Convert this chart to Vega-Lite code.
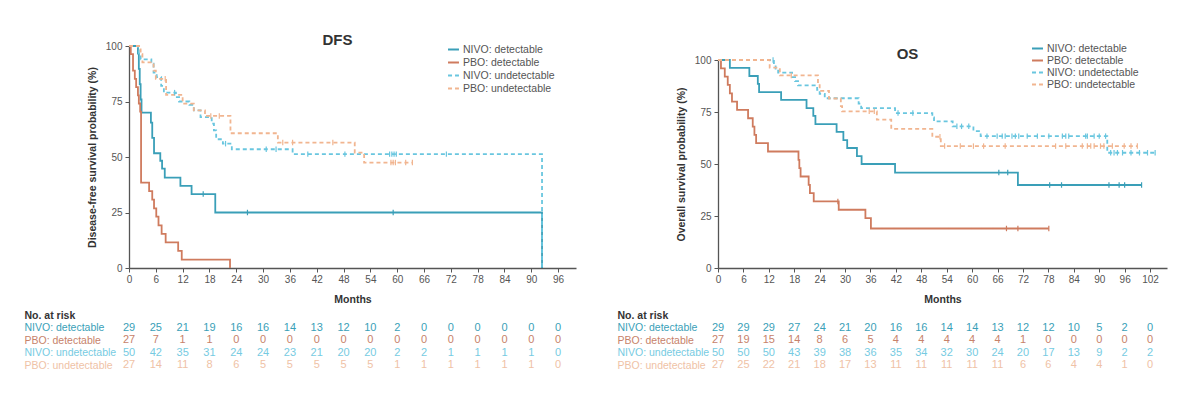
{
  "$schema": "https://vega.github.io/schema/vega-lite/v6.json",
  "background": "white",
  "padding": {"left": 24, "top": 33, "right": 5, "bottom": 5},
  "config": {
    "view": {"stroke": null},
    "font": "Liberation Sans",
    "axis": {
      "grid": false,
      "domainColor": "#555555",
      "domainWidth": 1.3,
      "tickColor": "#555555",
      "tickSize": 4,
      "labelColor": "#555555",
      "labelFontSize": 10,
      "labelOverlap": false,
      "titleColor": "#333333",
      "titleFontSize": 10.5,
      "titleFontWeight": "bold"
    }
  },
  "datasets": {
    "dfs_curves": [
      {"arm": "NIVO: detectable", "month": 0, "pct": 100},
      {"arm": "NIVO: detectable", "month": 2.0, "pct": 96.6},
      {"arm": "NIVO: detectable", "month": 2.2, "pct": 89.7},
      {"arm": "NIVO: detectable", "month": 2.4, "pct": 82.8},
      {"arm": "NIVO: detectable", "month": 2.6, "pct": 75.9},
      {"arm": "NIVO: detectable", "month": 2.8, "pct": 70.0},
      {"arm": "NIVO: detectable", "month": 4.9, "pct": 65.5},
      {"arm": "NIVO: detectable", "month": 5.2, "pct": 58.6},
      {"arm": "NIVO: detectable", "month": 5.6, "pct": 51.7},
      {"arm": "NIVO: detectable", "month": 7.0, "pct": 48.3},
      {"arm": "NIVO: detectable", "month": 7.4, "pct": 44.8},
      {"arm": "NIVO: detectable", "month": 8.0, "pct": 40.7},
      {"arm": "NIVO: detectable", "month": 11.5, "pct": 37.0},
      {"arm": "NIVO: detectable", "month": 14.0, "pct": 33.3},
      {"arm": "NIVO: detectable", "month": 19.3, "pct": 25.0},
      {"arm": "NIVO: detectable", "month": 92.4, "pct": 0},
      {"arm": "PBO: detectable", "month": 0, "pct": 100},
      {"arm": "PBO: detectable", "month": 0.4, "pct": 96.3},
      {"arm": "PBO: detectable", "month": 0.9, "pct": 88.9},
      {"arm": "PBO: detectable", "month": 1.3, "pct": 85.2},
      {"arm": "PBO: detectable", "month": 1.6, "pct": 81.5},
      {"arm": "PBO: detectable", "month": 2.0, "pct": 77.8},
      {"arm": "PBO: detectable", "month": 2.2, "pct": 74.1},
      {"arm": "PBO: detectable", "month": 2.5, "pct": 70.4},
      {"arm": "PBO: detectable", "month": 2.7, "pct": 38.5},
      {"arm": "PBO: detectable", "month": 4.5, "pct": 34.6},
      {"arm": "PBO: detectable", "month": 5.2, "pct": 30.8},
      {"arm": "PBO: detectable", "month": 5.6, "pct": 26.9},
      {"arm": "PBO: detectable", "month": 6.1, "pct": 23.1},
      {"arm": "PBO: detectable", "month": 6.6, "pct": 19.2},
      {"arm": "PBO: detectable", "month": 7.3, "pct": 15.4},
      {"arm": "PBO: detectable", "month": 8.2, "pct": 11.5},
      {"arm": "PBO: detectable", "month": 11.0, "pct": 7.7},
      {"arm": "PBO: detectable", "month": 11.8, "pct": 3.8},
      {"arm": "PBO: detectable", "month": 22.6, "pct": 0},
      {"arm": "NIVO: undetectable", "month": 0, "pct": 100},
      {"arm": "NIVO: undetectable", "month": 2.0, "pct": 98},
      {"arm": "NIVO: undetectable", "month": 2.2, "pct": 96},
      {"arm": "NIVO: undetectable", "month": 2.6, "pct": 94},
      {"arm": "NIVO: undetectable", "month": 5.0, "pct": 92},
      {"arm": "NIVO: undetectable", "month": 5.5, "pct": 88},
      {"arm": "NIVO: undetectable", "month": 6.2, "pct": 86},
      {"arm": "NIVO: undetectable", "month": 7.2, "pct": 82},
      {"arm": "NIVO: undetectable", "month": 7.8, "pct": 79},
      {"arm": "NIVO: undetectable", "month": 10.5, "pct": 77},
      {"arm": "NIVO: undetectable", "month": 11.2, "pct": 75},
      {"arm": "NIVO: undetectable", "month": 13.5, "pct": 73.5},
      {"arm": "NIVO: undetectable", "month": 14.5, "pct": 71},
      {"arm": "NIVO: undetectable", "month": 16.0, "pct": 68},
      {"arm": "NIVO: undetectable", "month": 18.5, "pct": 65},
      {"arm": "NIVO: undetectable", "month": 19.0, "pct": 62},
      {"arm": "NIVO: undetectable", "month": 19.5, "pct": 58},
      {"arm": "NIVO: undetectable", "month": 21.0, "pct": 56},
      {"arm": "NIVO: undetectable", "month": 23.0, "pct": 53.5},
      {"arm": "NIVO: undetectable", "month": 36.6, "pct": 51.3},
      {"arm": "NIVO: undetectable", "month": 92.4, "pct": 0},
      {"arm": "PBO: undetectable", "month": 0, "pct": 100},
      {"arm": "PBO: undetectable", "month": 2.6, "pct": 96.3},
      {"arm": "PBO: undetectable", "month": 3.0, "pct": 92.6},
      {"arm": "PBO: undetectable", "month": 5.5, "pct": 88.9},
      {"arm": "PBO: undetectable", "month": 6.0, "pct": 85.2},
      {"arm": "PBO: undetectable", "month": 8.3, "pct": 78},
      {"arm": "PBO: undetectable", "month": 12.0, "pct": 74},
      {"arm": "PBO: undetectable", "month": 14.5, "pct": 71},
      {"arm": "PBO: undetectable", "month": 17.0, "pct": 68.5},
      {"arm": "PBO: undetectable", "month": 22.7, "pct": 60.7},
      {"arm": "PBO: undetectable", "month": 33.3, "pct": 56.5},
      {"arm": "PBO: undetectable", "month": 50.5, "pct": 52},
      {"arm": "PBO: undetectable", "month": 52.6, "pct": 47.5},
      {"arm": "PBO: undetectable", "month": 63.4, "pct": 47.5}
    ],
    "dfs_censor": [
      {"arm": "NIVO: detectable", "month": 16.6, "pct": 33.3},
      {"arm": "NIVO: detectable", "month": 26.5, "pct": 25},
      {"arm": "NIVO: detectable", "month": 59.1, "pct": 25},
      {"arm": "NIVO: undetectable", "month": 10.2, "pct": 79},
      {"arm": "NIVO: undetectable", "month": 21.6, "pct": 56},
      {"arm": "NIVO: undetectable", "month": 30.7, "pct": 53.5},
      {"arm": "NIVO: undetectable", "month": 32.9, "pct": 53.5},
      {"arm": "NIVO: undetectable", "month": 40.0, "pct": 51.3},
      {"arm": "NIVO: undetectable", "month": 48.3, "pct": 51.3},
      {"arm": "NIVO: undetectable", "month": 58.3, "pct": 51.3},
      {"arm": "NIVO: undetectable", "month": 58.8, "pct": 51.3},
      {"arm": "NIVO: undetectable", "month": 59.3, "pct": 51.3},
      {"arm": "NIVO: undetectable", "month": 59.8, "pct": 51.3},
      {"arm": "NIVO: undetectable", "month": 71.0, "pct": 51.3},
      {"arm": "PBO: undetectable", "month": 8.1, "pct": 85.2},
      {"arm": "PBO: undetectable", "month": 18.3, "pct": 68.5},
      {"arm": "PBO: undetectable", "month": 20.2, "pct": 68.5},
      {"arm": "PBO: undetectable", "month": 34.4, "pct": 56.5},
      {"arm": "PBO: undetectable", "month": 36.6, "pct": 56.5},
      {"arm": "PBO: undetectable", "month": 45.6, "pct": 56.5},
      {"arm": "PBO: undetectable", "month": 58.6, "pct": 47.5},
      {"arm": "PBO: undetectable", "month": 59.1, "pct": 47.5},
      {"arm": "PBO: undetectable", "month": 59.6, "pct": 47.5},
      {"arm": "PBO: undetectable", "month": 61.9, "pct": 47.5},
      {"arm": "PBO: undetectable", "month": 63.4, "pct": 47.5}
    ],
    "os_curves": [
      {"arm": "NIVO: detectable", "month": 0, "pct": 100},
      {"arm": "NIVO: detectable", "month": 2.8, "pct": 96.2},
      {"arm": "NIVO: detectable", "month": 7.4, "pct": 92.3},
      {"arm": "NIVO: detectable", "month": 9.4, "pct": 88.5},
      {"arm": "NIVO: detectable", "month": 9.7, "pct": 84.6},
      {"arm": "NIVO: detectable", "month": 14.9, "pct": 80.8},
      {"arm": "NIVO: detectable", "month": 20.9, "pct": 76.9},
      {"arm": "NIVO: detectable", "month": 22.5, "pct": 73.1},
      {"arm": "NIVO: detectable", "month": 23.0, "pct": 69.2},
      {"arm": "NIVO: detectable", "month": 28.0, "pct": 65.4},
      {"arm": "NIVO: detectable", "month": 29.6, "pct": 61.5},
      {"arm": "NIVO: detectable", "month": 30.5, "pct": 57.7},
      {"arm": "NIVO: detectable", "month": 32.8, "pct": 53.8},
      {"arm": "NIVO: detectable", "month": 33.9, "pct": 50.0},
      {"arm": "NIVO: detectable", "month": 41.8, "pct": 45.9},
      {"arm": "NIVO: detectable", "month": 70.8, "pct": 39.9},
      {"arm": "NIVO: detectable", "month": 100, "pct": 39.9},
      {"arm": "PBO: detectable", "month": 0, "pct": 100},
      {"arm": "PBO: detectable", "month": 0.7, "pct": 96},
      {"arm": "PBO: detectable", "month": 1.6, "pct": 92},
      {"arm": "PBO: detectable", "month": 2.3, "pct": 88},
      {"arm": "PBO: detectable", "month": 2.8, "pct": 84},
      {"arm": "PBO: detectable", "month": 3.3, "pct": 80},
      {"arm": "PBO: detectable", "month": 4.5, "pct": 76},
      {"arm": "PBO: detectable", "month": 7.1, "pct": 72},
      {"arm": "PBO: detectable", "month": 8.2, "pct": 68},
      {"arm": "PBO: detectable", "month": 8.6, "pct": 64},
      {"arm": "PBO: detectable", "month": 9.0, "pct": 60},
      {"arm": "PBO: detectable", "month": 11.8, "pct": 56},
      {"arm": "PBO: detectable", "month": 19.0, "pct": 52},
      {"arm": "PBO: detectable", "month": 19.2, "pct": 48},
      {"arm": "PBO: detectable", "month": 19.5, "pct": 44},
      {"arm": "PBO: detectable", "month": 21.4, "pct": 40},
      {"arm": "PBO: detectable", "month": 21.7, "pct": 36},
      {"arm": "PBO: detectable", "month": 22.6, "pct": 32},
      {"arm": "PBO: detectable", "month": 28.5, "pct": 28},
      {"arm": "PBO: detectable", "month": 34.8, "pct": 24},
      {"arm": "PBO: detectable", "month": 36.1, "pct": 19},
      {"arm": "PBO: detectable", "month": 78.1, "pct": 19},
      {"arm": "NIVO: undetectable", "month": 0, "pct": 100},
      {"arm": "NIVO: undetectable", "month": 13.2, "pct": 98},
      {"arm": "NIVO: undetectable", "month": 13.6, "pct": 95.9},
      {"arm": "NIVO: undetectable", "month": 14.2, "pct": 93.9},
      {"arm": "NIVO: undetectable", "month": 17.5, "pct": 91.8},
      {"arm": "NIVO: undetectable", "month": 18.2, "pct": 89.8},
      {"arm": "NIVO: undetectable", "month": 18.9, "pct": 87.8},
      {"arm": "NIVO: undetectable", "month": 23.4, "pct": 85.7},
      {"arm": "NIVO: undetectable", "month": 24.0, "pct": 83.7},
      {"arm": "NIVO: undetectable", "month": 25.2, "pct": 81.6},
      {"arm": "NIVO: undetectable", "month": 33.2, "pct": 79.0},
      {"arm": "NIVO: undetectable", "month": 33.8, "pct": 76.9},
      {"arm": "NIVO: undetectable", "month": 41.8, "pct": 74.5},
      {"arm": "NIVO: undetectable", "month": 50.6, "pct": 72.4},
      {"arm": "NIVO: undetectable", "month": 51.0, "pct": 70.5},
      {"arm": "NIVO: undetectable", "month": 55.4, "pct": 68.1},
      {"arm": "NIVO: undetectable", "month": 60.3, "pct": 65.8},
      {"arm": "NIVO: undetectable", "month": 62.0, "pct": 63.4},
      {"arm": "NIVO: undetectable", "month": 91.9, "pct": 55.4},
      {"arm": "NIVO: undetectable", "month": 103.2, "pct": 55.4},
      {"arm": "PBO: undetectable", "month": 0, "pct": 100},
      {"arm": "PBO: undetectable", "month": 12.2, "pct": 96.3},
      {"arm": "PBO: undetectable", "month": 14.6, "pct": 92.6},
      {"arm": "PBO: undetectable", "month": 23.6, "pct": 88.9},
      {"arm": "PBO: undetectable", "month": 24.0, "pct": 85.2},
      {"arm": "PBO: undetectable", "month": 26.2, "pct": 81.5},
      {"arm": "PBO: undetectable", "month": 29.0, "pct": 77.8},
      {"arm": "PBO: undetectable", "month": 29.3, "pct": 75.3},
      {"arm": "PBO: undetectable", "month": 37.5, "pct": 71.3},
      {"arm": "PBO: undetectable", "month": 40.9, "pct": 66.9},
      {"arm": "PBO: undetectable", "month": 50.6, "pct": 63.1},
      {"arm": "PBO: undetectable", "month": 52.6, "pct": 58.6},
      {"arm": "PBO: undetectable", "month": 99.0, "pct": 58.6}
    ],
    "os_censor": [
      {"arm": "NIVO: detectable", "month": 66.3, "pct": 45.9},
      {"arm": "NIVO: detectable", "month": 68.4, "pct": 45.9},
      {"arm": "NIVO: detectable", "month": 78.3, "pct": 39.9},
      {"arm": "NIVO: detectable", "month": 81.1, "pct": 39.9},
      {"arm": "NIVO: detectable", "month": 92.3, "pct": 39.9},
      {"arm": "NIVO: detectable", "month": 94.7, "pct": 39.9},
      {"arm": "NIVO: detectable", "month": 96.0, "pct": 39.9},
      {"arm": "NIVO: detectable", "month": 100, "pct": 39.9},
      {"arm": "PBO: detectable", "month": 28.3, "pct": 32},
      {"arm": "PBO: detectable", "month": 68.1, "pct": 19},
      {"arm": "PBO: detectable", "month": 70.8, "pct": 19},
      {"arm": "PBO: detectable", "month": 78.1, "pct": 19},
      {"arm": "NIVO: undetectable", "month": 13.0, "pct": 100},
      {"arm": "NIVO: undetectable", "month": 42.5, "pct": 74.5},
      {"arm": "NIVO: undetectable", "month": 46.0, "pct": 74.5},
      {"arm": "NIVO: undetectable", "month": 56.4, "pct": 68.1},
      {"arm": "NIVO: undetectable", "month": 57.5, "pct": 68.1},
      {"arm": "NIVO: undetectable", "month": 59.2, "pct": 68.1},
      {"arm": "NIVO: undetectable", "month": 63.5, "pct": 63.4},
      {"arm": "NIVO: undetectable", "month": 65.9, "pct": 63.4},
      {"arm": "NIVO: undetectable", "month": 67.1, "pct": 63.4},
      {"arm": "NIVO: undetectable", "month": 67.8, "pct": 63.4},
      {"arm": "NIVO: undetectable", "month": 69.4, "pct": 63.4},
      {"arm": "NIVO: undetectable", "month": 70.2, "pct": 63.4},
      {"arm": "NIVO: undetectable", "month": 71.0, "pct": 63.4},
      {"arm": "NIVO: undetectable", "month": 73.0, "pct": 63.4},
      {"arm": "NIVO: undetectable", "month": 75.4, "pct": 63.4},
      {"arm": "NIVO: undetectable", "month": 78.1, "pct": 63.4},
      {"arm": "NIVO: undetectable", "month": 81.3, "pct": 63.4},
      {"arm": "NIVO: undetectable", "month": 82.1, "pct": 63.4},
      {"arm": "NIVO: undetectable", "month": 82.8, "pct": 63.4},
      {"arm": "NIVO: undetectable", "month": 86.8, "pct": 63.4},
      {"arm": "NIVO: undetectable", "month": 87.2, "pct": 63.4},
      {"arm": "NIVO: undetectable", "month": 88.8, "pct": 63.4},
      {"arm": "NIVO: undetectable", "month": 90.0, "pct": 63.4},
      {"arm": "NIVO: undetectable", "month": 91.5, "pct": 63.4},
      {"arm": "NIVO: undetectable", "month": 92.7, "pct": 55.4},
      {"arm": "NIVO: undetectable", "month": 93.5, "pct": 55.4},
      {"arm": "NIVO: undetectable", "month": 94.3, "pct": 55.4},
      {"arm": "NIVO: undetectable", "month": 95.5, "pct": 55.4},
      {"arm": "NIVO: undetectable", "month": 97.5, "pct": 55.4},
      {"arm": "NIVO: undetectable", "month": 99.5, "pct": 55.4},
      {"arm": "NIVO: undetectable", "month": 101.4, "pct": 55.4},
      {"arm": "NIVO: undetectable", "month": 103.2, "pct": 55.4},
      {"arm": "PBO: undetectable", "month": 17.3, "pct": 92.6},
      {"arm": "PBO: undetectable", "month": 35.7, "pct": 75.3},
      {"arm": "PBO: undetectable", "month": 36.9, "pct": 75.3},
      {"arm": "PBO: undetectable", "month": 52.4, "pct": 63.1},
      {"arm": "PBO: undetectable", "month": 53.5, "pct": 58.6},
      {"arm": "PBO: undetectable", "month": 57.2, "pct": 58.6},
      {"arm": "PBO: undetectable", "month": 60.3, "pct": 58.6},
      {"arm": "PBO: undetectable", "month": 62.7, "pct": 58.6},
      {"arm": "PBO: undetectable", "month": 67.8, "pct": 58.6},
      {"arm": "PBO: undetectable", "month": 79.7, "pct": 58.6},
      {"arm": "PBO: undetectable", "month": 82.1, "pct": 58.6},
      {"arm": "PBO: undetectable", "month": 86.0, "pct": 58.6},
      {"arm": "PBO: undetectable", "month": 87.2, "pct": 58.6},
      {"arm": "PBO: undetectable", "month": 88.0, "pct": 58.6},
      {"arm": "PBO: undetectable", "month": 88.8, "pct": 58.6},
      {"arm": "PBO: undetectable", "month": 90.3, "pct": 58.6},
      {"arm": "PBO: undetectable", "month": 91.1, "pct": 58.6},
      {"arm": "PBO: undetectable", "month": 93.1, "pct": 58.6},
      {"arm": "PBO: undetectable", "month": 95.9, "pct": 58.6},
      {"arm": "PBO: undetectable", "month": 97.5, "pct": 58.6},
      {"arm": "PBO: undetectable", "month": 99.0, "pct": 58.6}
    ],
    "dfs_risk": [
      {"arm": "NIVO: detectable", "month": 0, "n": 29}, {"arm": "NIVO: detectable", "month": 6, "n": 25}, {"arm": "NIVO: detectable", "month": 12, "n": 21}, {"arm": "NIVO: detectable", "month": 18, "n": 19}, {"arm": "NIVO: detectable", "month": 24, "n": 16}, {"arm": "NIVO: detectable", "month": 30, "n": 16}, {"arm": "NIVO: detectable", "month": 36, "n": 14}, {"arm": "NIVO: detectable", "month": 42, "n": 13}, {"arm": "NIVO: detectable", "month": 48, "n": 12}, {"arm": "NIVO: detectable", "month": 54, "n": 10}, {"arm": "NIVO: detectable", "month": 60, "n": 2}, {"arm": "NIVO: detectable", "month": 66, "n": 0}, {"arm": "NIVO: detectable", "month": 72, "n": 0}, {"arm": "NIVO: detectable", "month": 78, "n": 0}, {"arm": "NIVO: detectable", "month": 84, "n": 0}, {"arm": "NIVO: detectable", "month": 90, "n": 0}, {"arm": "NIVO: detectable", "month": 96, "n": 0},
      {"arm": "PBO: detectable", "month": 0, "n": 27}, {"arm": "PBO: detectable", "month": 6, "n": 7}, {"arm": "PBO: detectable", "month": 12, "n": 1}, {"arm": "PBO: detectable", "month": 18, "n": 1}, {"arm": "PBO: detectable", "month": 24, "n": 0}, {"arm": "PBO: detectable", "month": 30, "n": 0}, {"arm": "PBO: detectable", "month": 36, "n": 0}, {"arm": "PBO: detectable", "month": 42, "n": 0}, {"arm": "PBO: detectable", "month": 48, "n": 0}, {"arm": "PBO: detectable", "month": 54, "n": 0}, {"arm": "PBO: detectable", "month": 60, "n": 0}, {"arm": "PBO: detectable", "month": 66, "n": 0}, {"arm": "PBO: detectable", "month": 72, "n": 0}, {"arm": "PBO: detectable", "month": 78, "n": 0}, {"arm": "PBO: detectable", "month": 84, "n": 0}, {"arm": "PBO: detectable", "month": 90, "n": 0}, {"arm": "PBO: detectable", "month": 96, "n": 0},
      {"arm": "NIVO: undetectable", "month": 0, "n": 50}, {"arm": "NIVO: undetectable", "month": 6, "n": 42}, {"arm": "NIVO: undetectable", "month": 12, "n": 35}, {"arm": "NIVO: undetectable", "month": 18, "n": 31}, {"arm": "NIVO: undetectable", "month": 24, "n": 24}, {"arm": "NIVO: undetectable", "month": 30, "n": 24}, {"arm": "NIVO: undetectable", "month": 36, "n": 23}, {"arm": "NIVO: undetectable", "month": 42, "n": 21}, {"arm": "NIVO: undetectable", "month": 48, "n": 20}, {"arm": "NIVO: undetectable", "month": 54, "n": 20}, {"arm": "NIVO: undetectable", "month": 60, "n": 2}, {"arm": "NIVO: undetectable", "month": 66, "n": 2}, {"arm": "NIVO: undetectable", "month": 72, "n": 1}, {"arm": "NIVO: undetectable", "month": 78, "n": 1}, {"arm": "NIVO: undetectable", "month": 84, "n": 1}, {"arm": "NIVO: undetectable", "month": 90, "n": 1}, {"arm": "NIVO: undetectable", "month": 96, "n": 0},
      {"arm": "PBO: undetectable", "month": 0, "n": 27}, {"arm": "PBO: undetectable", "month": 6, "n": 14}, {"arm": "PBO: undetectable", "month": 12, "n": 11}, {"arm": "PBO: undetectable", "month": 18, "n": 8}, {"arm": "PBO: undetectable", "month": 24, "n": 6}, {"arm": "PBO: undetectable", "month": 30, "n": 5}, {"arm": "PBO: undetectable", "month": 36, "n": 5}, {"arm": "PBO: undetectable", "month": 42, "n": 5}, {"arm": "PBO: undetectable", "month": 48, "n": 5}, {"arm": "PBO: undetectable", "month": 54, "n": 5}, {"arm": "PBO: undetectable", "month": 60, "n": 1}, {"arm": "PBO: undetectable", "month": 66, "n": 1}, {"arm": "PBO: undetectable", "month": 72, "n": 1}, {"arm": "PBO: undetectable", "month": 78, "n": 1}, {"arm": "PBO: undetectable", "month": 84, "n": 1}, {"arm": "PBO: undetectable", "month": 90, "n": 1}, {"arm": "PBO: undetectable", "month": 96, "n": 0}
    ],
    "os_risk": [
      {"arm": "NIVO: detectable", "month": 0, "n": 29}, {"arm": "NIVO: detectable", "month": 6, "n": 29}, {"arm": "NIVO: detectable", "month": 12, "n": 29}, {"arm": "NIVO: detectable", "month": 18, "n": 27}, {"arm": "NIVO: detectable", "month": 24, "n": 24}, {"arm": "NIVO: detectable", "month": 30, "n": 21}, {"arm": "NIVO: detectable", "month": 36, "n": 20}, {"arm": "NIVO: detectable", "month": 42, "n": 16}, {"arm": "NIVO: detectable", "month": 48, "n": 16}, {"arm": "NIVO: detectable", "month": 54, "n": 14}, {"arm": "NIVO: detectable", "month": 60, "n": 14}, {"arm": "NIVO: detectable", "month": 66, "n": 13}, {"arm": "NIVO: detectable", "month": 72, "n": 12}, {"arm": "NIVO: detectable", "month": 78, "n": 12}, {"arm": "NIVO: detectable", "month": 84, "n": 10}, {"arm": "NIVO: detectable", "month": 90, "n": 5}, {"arm": "NIVO: detectable", "month": 96, "n": 2}, {"arm": "NIVO: detectable", "month": 102, "n": 0},
      {"arm": "PBO: detectable", "month": 0, "n": 27}, {"arm": "PBO: detectable", "month": 6, "n": 19}, {"arm": "PBO: detectable", "month": 12, "n": 15}, {"arm": "PBO: detectable", "month": 18, "n": 14}, {"arm": "PBO: detectable", "month": 24, "n": 8}, {"arm": "PBO: detectable", "month": 30, "n": 6}, {"arm": "PBO: detectable", "month": 36, "n": 5}, {"arm": "PBO: detectable", "month": 42, "n": 4}, {"arm": "PBO: detectable", "month": 48, "n": 4}, {"arm": "PBO: detectable", "month": 54, "n": 4}, {"arm": "PBO: detectable", "month": 60, "n": 4}, {"arm": "PBO: detectable", "month": 66, "n": 4}, {"arm": "PBO: detectable", "month": 72, "n": 1}, {"arm": "PBO: detectable", "month": 78, "n": 0}, {"arm": "PBO: detectable", "month": 84, "n": 0}, {"arm": "PBO: detectable", "month": 90, "n": 0}, {"arm": "PBO: detectable", "month": 96, "n": 0}, {"arm": "PBO: detectable", "month": 102, "n": 0},
      {"arm": "NIVO: undetectable", "month": 0, "n": 50}, {"arm": "NIVO: undetectable", "month": 6, "n": 50}, {"arm": "NIVO: undetectable", "month": 12, "n": 50}, {"arm": "NIVO: undetectable", "month": 18, "n": 43}, {"arm": "NIVO: undetectable", "month": 24, "n": 39}, {"arm": "NIVO: undetectable", "month": 30, "n": 38}, {"arm": "NIVO: undetectable", "month": 36, "n": 36}, {"arm": "NIVO: undetectable", "month": 42, "n": 35}, {"arm": "NIVO: undetectable", "month": 48, "n": 34}, {"arm": "NIVO: undetectable", "month": 54, "n": 32}, {"arm": "NIVO: undetectable", "month": 60, "n": 30}, {"arm": "NIVO: undetectable", "month": 66, "n": 24}, {"arm": "NIVO: undetectable", "month": 72, "n": 20}, {"arm": "NIVO: undetectable", "month": 78, "n": 17}, {"arm": "NIVO: undetectable", "month": 84, "n": 13}, {"arm": "NIVO: undetectable", "month": 90, "n": 9}, {"arm": "NIVO: undetectable", "month": 96, "n": 2}, {"arm": "NIVO: undetectable", "month": 102, "n": 2},
      {"arm": "PBO: undetectable", "month": 0, "n": 27}, {"arm": "PBO: undetectable", "month": 6, "n": 25}, {"arm": "PBO: undetectable", "month": 12, "n": 22}, {"arm": "PBO: undetectable", "month": 18, "n": 21}, {"arm": "PBO: undetectable", "month": 24, "n": 18}, {"arm": "PBO: undetectable", "month": 30, "n": 17}, {"arm": "PBO: undetectable", "month": 36, "n": 13}, {"arm": "PBO: undetectable", "month": 42, "n": 11}, {"arm": "PBO: undetectable", "month": 48, "n": 11}, {"arm": "PBO: undetectable", "month": 54, "n": 11}, {"arm": "PBO: undetectable", "month": 60, "n": 11}, {"arm": "PBO: undetectable", "month": 66, "n": 11}, {"arm": "PBO: undetectable", "month": 72, "n": 6}, {"arm": "PBO: undetectable", "month": 78, "n": 6}, {"arm": "PBO: undetectable", "month": 84, "n": 4}, {"arm": "PBO: undetectable", "month": 90, "n": 4}, {"arm": "PBO: undetectable", "month": 96, "n": 1}, {"arm": "PBO: undetectable", "month": 102, "n": 0}
    ]
  },
  "columns": 2,
  "bounds": "flush",
  "spacing": {"row": 41, "column": 142},
  "resolve": {
    "scale": {"x": "independent", "y": "independent", "color": "independent", "strokeDash": "independent"},
    "legend": {"color": "independent", "strokeDash": "independent"}
  },
  "concat": [
    {
      "width": 447,
      "height": 222,
      "title": {"text": "DFS", "fontSize": 15, "fontWeight": "bold", "color": "#333333", "dx": -15, "offset": -7},
      "layer": [
        {
          "data": {"name": "dfs_curves"},
          "mark": {"type": "line", "interpolate": "step-after", "strokeWidth": 1.8},
          "encoding": {
            "x": {"field": "month", "type": "quantitative", "scale": {"domain": [0, 100], "nice": false},
                  "axis": {"values": [0, 6, 12, 18, 24, 30, 36, 42, 48, 54, 60, 66, 72, 78, 84, 90, 96], "tickCount": 30, "labelOverlap": false, "title": "Months", "titlePadding": 10, "labelPadding": 2, "labelFlush": false}},
            "y": {"field": "pct", "type": "quantitative", "scale": {"domain": [0, 100], "nice": false},
                  "axis": {"values": [0, 25, 50, 75, 100], "title": "Disease-free survival probability (%)", "titlePadding": 8, "labelPadding": 3}},
            "color": {"field": "arm", "type": "nominal",
                      "scale": {"domain": ["NIVO: detectable", "PBO: detectable", "NIVO: undetectable", "PBO: undetectable"], "range": ["#3a9fb8", "#cf7b5e", "#69c6df", "#f1b590"]},
                      "legend": {"title": null, "orient": "none", "legendX": 318, "legendY": -3, "symbolType": "stroke", "symbolSize": 120, "symbolStrokeWidth": 2, "labelFontSize": 10.5, "labelColor": "#555555", "rowPadding": 1, "labelOffset": 3}},
            "strokeDash": {"field": "arm", "type": "nominal",
                           "scale": {"domain": ["NIVO: detectable", "PBO: detectable", "NIVO: undetectable", "PBO: undetectable"], "range": [[1, 0], [1, 0], [4, 3], [4, 3]]},
                           "legend": {"title": null, "orient": "none", "legendX": 318, "legendY": -3, "symbolType": "stroke", "symbolSize": 120, "symbolStrokeWidth": 2, "labelFontSize": 10.5, "labelColor": "#555555", "rowPadding": 1, "labelOffset": 3}}
          }
        },
        {
          "data": {"name": "dfs_censor"},
          "mark": {"type": "point", "shape": "M0,-1L0,1", "filled": false, "size": 30, "strokeWidth": 1.2, "opacity": 1},
          "encoding": {
            "x": {"field": "month", "type": "quantitative"},
            "y": {"field": "pct", "type": "quantitative"},
            "color": {"field": "arm", "type": "nominal"}
          }
        }
      ]
    },
    {
      "width": 449,
      "height": 222,
      "title": {"text": "OS", "fontSize": 15, "fontWeight": "bold", "color": "#333333", "dx": -35, "offset": -20},
      "layer": [
        {
          "data": {"name": "os_curves"},
          "mark": {"type": "line", "interpolate": "step-after", "strokeWidth": 1.8},
          "encoding": {
            "x": {"field": "month", "type": "quantitative", "scale": {"domain": [0, 106], "nice": false},
                  "axis": {"values": [0, 6, 12, 18, 24, 30, 36, 42, 48, 54, 60, 66, 72, 78, 84, 90, 96, 102], "tickCount": 30, "labelOverlap": false, "title": "Months", "titlePadding": 10, "labelPadding": 2, "labelFlush": false}},
            "y": {"field": "pct", "type": "quantitative", "scale": {"domain": [0, 100], "nice": false, "range": [222, 14]},
                  "axis": {"values": [0, 25, 50, 75, 100], "title": "Overall survival probability (%)", "titlePadding": 8, "labelPadding": 3}},
            "color": {"field": "arm", "type": "nominal",
                      "scale": {"domain": ["NIVO: detectable", "PBO: detectable", "NIVO: undetectable", "PBO: undetectable"], "range": ["#3a9fb8", "#cf7b5e", "#69c6df", "#f1b590"]},
                      "legend": {"title": null, "orient": "none", "legendX": 313, "legendY": -4, "symbolType": "stroke", "symbolSize": 120, "symbolStrokeWidth": 2, "labelFontSize": 10.5, "labelColor": "#555555", "rowPadding": 0, "labelOffset": 3}},
            "strokeDash": {"field": "arm", "type": "nominal",
                           "scale": {"domain": ["NIVO: detectable", "PBO: detectable", "NIVO: undetectable", "PBO: undetectable"], "range": [[1, 0], [1, 0], [4, 3], [4, 3]]},
                           "legend": {"title": null, "orient": "none", "legendX": 313, "legendY": -4, "symbolType": "stroke", "symbolSize": 120, "symbolStrokeWidth": 2, "labelFontSize": 10.5, "labelColor": "#555555", "rowPadding": 0, "labelOffset": 3}}
          }
        },
        {
          "data": {"name": "os_censor"},
          "mark": {"type": "point", "shape": "M0,-1L0,1", "filled": false, "size": 30, "strokeWidth": 1.2, "opacity": 1},
          "encoding": {
            "x": {"field": "month", "type": "quantitative"},
            "y": {"field": "pct", "type": "quantitative"},
            "color": {"field": "arm", "type": "nominal"}
          }
        }
      ]
    },
    {
      "width": 447,
      "height": 62.5,
      "data": {"name": "dfs_risk"},
      "mark": {"type": "text", "fontSize": 11},
      "encoding": {
        "x": {"field": "month", "type": "quantitative", "scale": {"domain": [0, 100], "nice": false}, "axis": null},
        "y": {"field": "arm", "type": "nominal",
              "scale": {"domain": ["No. at risk", "NIVO: detectable", "PBO: detectable", "NIVO: undetectable", "PBO: undetectable"]},
              "axis": {"title": null, "domain": false, "ticks": false, "labelAlign": "left", "labelPadding": 105, "labelFontSize": 10.5, "labelLimit": 0,
                       "labelColor": {"condition": [
                         {"test": "datum.value === 'NIVO: detectable'", "value": "#3a9fb8"},
                         {"test": "datum.value === 'PBO: detectable'", "value": "#c7826a"},
                         {"test": "datum.value === 'NIVO: undetectable'", "value": "#76cbe2"},
                         {"test": "datum.value === 'PBO: undetectable'", "value": "#efc2a6"}], "value": "#333333"},
                       "labelFontWeight": {"condition": {"test": "datum.value === 'No. at risk'", "value": "bold"}, "value": "normal"}}},
        "text": {"field": "n", "type": "quantitative"},
        "color": {"field": "arm", "type": "nominal",
                  "scale": {"domain": ["NIVO: detectable", "PBO: detectable", "NIVO: undetectable", "PBO: undetectable"], "range": ["#3a9fb8", "#c7826a", "#76cbe2", "#efc2a6"]},
                  "legend": null}
      }
    },
    {
      "width": 449,
      "height": 62.5,
      "data": {"name": "os_risk"},
      "mark": {"type": "text", "fontSize": 11},
      "encoding": {
        "x": {"field": "month", "type": "quantitative", "scale": {"domain": [0, 106], "nice": false}, "axis": null},
        "y": {"field": "arm", "type": "nominal",
              "scale": {"domain": ["No. at risk", "NIVO: detectable", "PBO: detectable", "NIVO: undetectable", "PBO: undetectable"]},
              "axis": {"title": null, "domain": false, "ticks": false, "labelAlign": "left", "labelPadding": 101, "labelFontSize": 10.5, "labelLimit": 0,
                       "labelColor": {"condition": [
                         {"test": "datum.value === 'NIVO: detectable'", "value": "#3a9fb8"},
                         {"test": "datum.value === 'PBO: detectable'", "value": "#c7826a"},
                         {"test": "datum.value === 'NIVO: undetectable'", "value": "#76cbe2"},
                         {"test": "datum.value === 'PBO: undetectable'", "value": "#efc2a6"}], "value": "#333333"},
                       "labelFontWeight": {"condition": {"test": "datum.value === 'No. at risk'", "value": "bold"}, "value": "normal"}}},
        "text": {"field": "n", "type": "quantitative"},
        "color": {"field": "arm", "type": "nominal",
                  "scale": {"domain": ["NIVO: detectable", "PBO: detectable", "NIVO: undetectable", "PBO: undetectable"], "range": ["#3a9fb8", "#c7826a", "#76cbe2", "#efc2a6"]},
                  "legend": null}
      }
    }
  ]
}
